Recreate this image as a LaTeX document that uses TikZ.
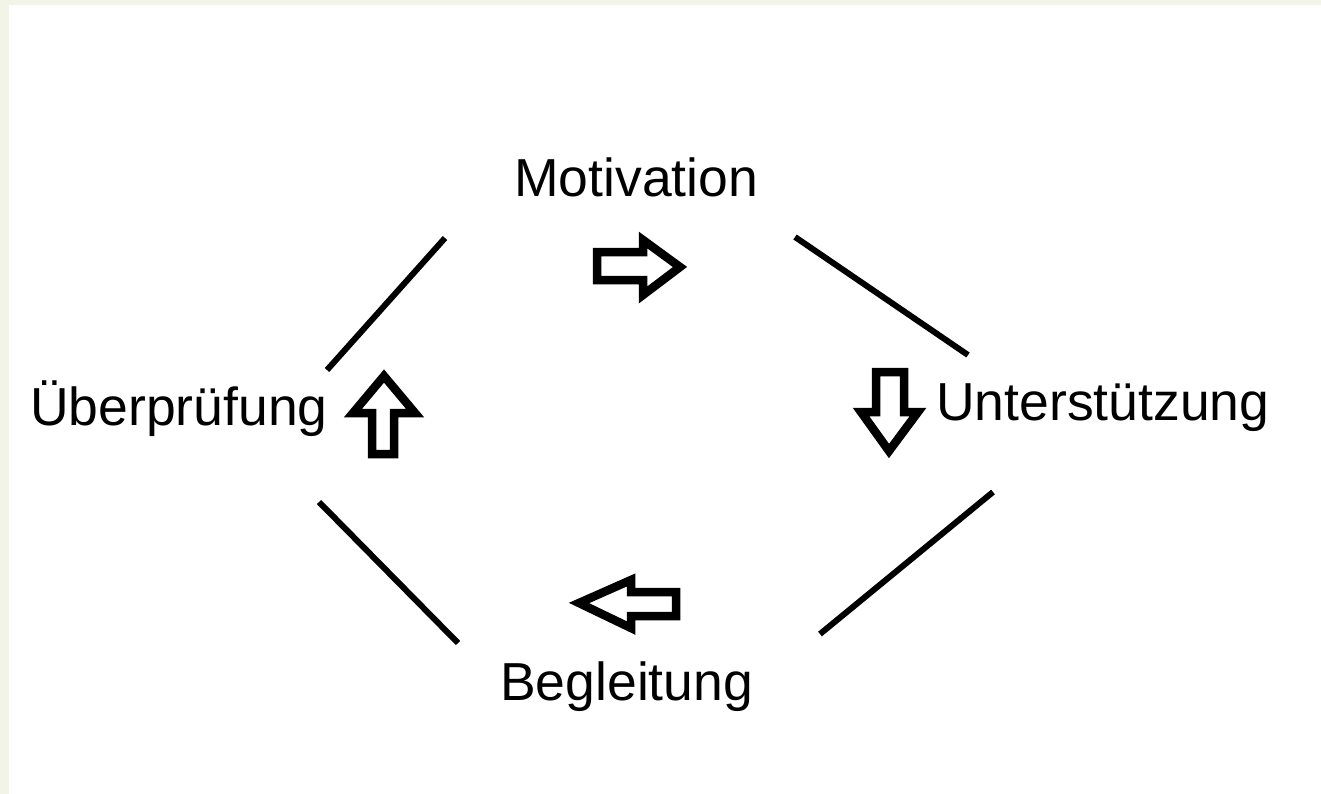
\documentclass[tikz,border=0pt]{standalone}
\usepackage{fontspec}
\setmainfont{Liberation Sans}
\definecolor{framebg}{RGB}{242,244,232}
\begin{document}
\begin{tikzpicture}[x=1pt,y=-1pt,
  lbl/.style={anchor=base west,inner sep=0pt,font=\fontsize{53.5}{60}\selectfont},
  ring/.style={line width=6pt,black},
  blockarrow/.style={line width=8.5pt,black,fill=white,line join=miter,miter limit=10}]
\useasboundingbox (0,0) rectangle (1321,794);
\fill[framebg] (0,0) rectangle (1321,794);
\fill[white] (9,5) rectangle (1321,794);
% labels
\node[lbl] (mot) at (514,197) {Motivation};
\node[lbl] (unt) at (936,420) {Unterstützung};
\node[lbl] (beg) at (500,700) {Begleitung};
\node[lbl] (ueb) at (30,425) {Überprüfung};
% ring segments
\coordinate (tl1) at (445,238); \coordinate (tl2) at (327,370);
\coordinate (tr1) at (795,237); \coordinate (tr2) at (968,355);
\coordinate (br1) at (993,492); \coordinate (br2) at (820,634);
\coordinate (bl1) at (319,502); \coordinate (bl2) at (458,643);
\draw[ring] (tl1) -- (tl2);
\draw[ring] (tr1) -- (tr2);
\draw[ring] (br1) -- (br2);
\draw[ring] (bl1) -- (bl2);
% block arrows
\draw[blockarrow] (597,252) -- (643,252) -- (643,240) -- (680,267) -- (643,295) -- (643,280) -- (597,280) -- cycle;
\draw[blockarrow] (876,372) -- (904,372) -- (904,412) -- (918,412) -- (889,451) -- (861,412) -- (876,412) -- cycle;
\draw[blockarrow] (676,592) -- (631,592) -- (631,580) -- (579,603) -- (631,628) -- (631,616) -- (676,616) -- cycle;
\draw[blockarrow] (372,454) -- (394,454) -- (394,413) -- (415,413) -- (384,376) -- (353,413) -- (372,413) -- cycle;
\end{tikzpicture}
\end{document}
